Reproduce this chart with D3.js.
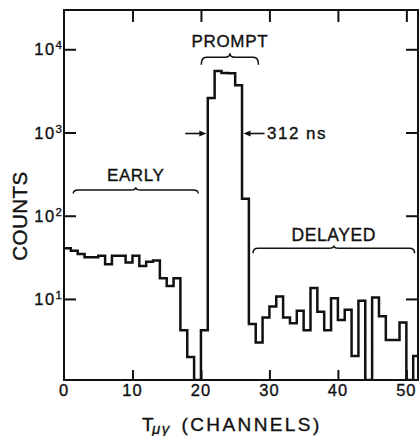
<!DOCTYPE html>
<html><head><meta charset="utf-8">
<script src="https://cdn.jsdelivr.net/npm/d3@7"></script>
<style>body{margin:0;background:#fff}svg{display:block}text{font-family:"Liberation Sans",Arial,sans-serif;fill:#111;stroke:#111;stroke-width:0.35}</style>
</head><body><svg id="c" width="420" height="436"></svg>
<script>
// ---- data ----
const channels = d3.range(0, 52);
const counts = [40.7,38,34.7,31.7,31.7,33,26.2,33,33,27.4,33,24.9,28,28.9,17.7,14.3,17.7,4.2,2.0,0,
  4.2,2600,5500,5200,5150,3700,160,5.0,3.0,6.0,8.1,10.7,6.0,5.1,7.2,4.2,13.5,7.0,4.2,10.2,
  5.6,7.4,2.06,9.5,0,10.4,6.2,3.2,3.2,5.2,0,2.06];
const xTickValues = [0,10,20,30,40,50];
const yTickValues = [10,100,1000,10000];
const yTickExponents = ["1","2","3","4"];
const regionNames = ["EARLY","PROMPT","DELAYED"];
const regionStart = [1.35, 20.05, 27.6];
const regionEnd = [19.6, 28.4, 51.2];
const widthStart = 21, widthEnd = 26;   // prompt FWHM channels
const widthLabel = "312 ns";

// ---- layout ----
const L = 64, R = 418, T = 10, B = 380;
const svg = d3.select("#c");
const x = d3.scaleLinear().domain([0, 51.7]).range([L, R]);
const yMin = Math.pow(10, 0.026), yMax = Math.pow(10, 4.472);
const y = d3.scaleLog().domain([yMin, yMax]).range([B, T]).clamp(true);
const ink = "#111";

svg.append("defs").append("clipPath").attr("id","clip")
  .append("rect").attr("x",L).attr("y",T).attr("width",R-L).attr("height",B-T);

// histogram
const yv = v => y(v > 0 ? v : yMin);
let d = `M${x(0)},${yv(counts[0])}`;
channels.forEach((c,i) => {
  if (i > 0) d += `V${yv(counts[i])}`;
  d += `H${x(c+1)}`;
});
svg.append("path").attr("d", d).attr("clip-path","url(#clip)")
  .attr("fill","none").attr("stroke",ink).attr("stroke-width",2.5);

// axes (ticks inside)
function styleAxis(g){ g.select(".domain").remove(); g.selectAll("line").attr("stroke",ink).attr("stroke-width",2); }
svg.append("g").attr("transform",`translate(0,${B})`)
  .call(d3.axisBottom(x).tickValues(xTickValues.slice(1)).tickSize(-10).tickFormat("")).call(styleAxis);
svg.append("g").attr("transform",`translate(0,${T})`)
  .call(d3.axisTop(x).tickValues(xTickValues.slice(1)).tickSize(-12).tickFormat("")).call(styleAxis);
svg.append("g").attr("transform",`translate(${L},0)`)
  .call(d3.axisLeft(y).tickValues(yTickValues).tickSize(-12).tickFormat("")).call(styleAxis);
svg.append("g").attr("transform",`translate(${R},0)`)
  .call(d3.axisRight(y).tickValues(yTickValues).tickSize(-12).tickFormat("")).call(styleAxis);

// frame
svg.append("rect").attr("x",L).attr("y",T).attr("width",R-L).attr("height",B-T)
  .attr("fill","none").attr("stroke",ink).attr("stroke-width",2);

// x tick labels
svg.append("g").selectAll("text").data(xTickValues).join("text")
  .attr("x", v => x(v)).attr("y", B+16).attr("text-anchor","middle")
  .attr("font-size",16.5).attr("letter-spacing",1).text(v => v);

// y tick labels
yTickValues.forEach((v,i) => {
  const t = svg.append("text").attr("x", 62).attr("y", y(v)+6).attr("text-anchor","end").attr("font-size",16.5);
  t.append("tspan").attr("letter-spacing",1.5).text("10");
  t.append("tspan").attr("font-size",11.5).attr("dy",-6).text(yTickExponents[i]);
});

// axis titles
svg.append("text").attr("transform",`translate(27,216) rotate(-90)`).attr("text-anchor","middle")
  .attr("font-size",20.5).attr("letter-spacing",0.5).text("COUNTS");
svg.append("text").attr("x",142).attr("y",431).attr("font-size",19).text("T");
svg.append("text").attr("x",152).attr("y",434).attr("font-size",15).attr("font-style","italic").attr("letter-spacing",1.5).text("μγ");
svg.append("text").attr("x",181.5).attr("y",431).attr("font-size",19).attr("letter-spacing",2.4).text("(CHANNELS)");

// braces + region labels
const braceLine = [190, 57.3, 248.3], braceEnd = [3.5, 7.5, 5], bracePeak = [2.8, 4, 2.8], labelY = [180.7, 46.7, 241];
const labelSize = [17, 17, 17.5], labelSpacing = [0.6, 0.7, 0.6];
regionNames.forEach((name,i) => {
  const x1 = x(regionStart[i]), x2 = x(regionEnd[i]), xc = (x1+x2)/2, yl = braceLine[i], h = braceEnd[i], p = bracePeak[i], r = 5;
  const bd = `M${x1},${yl+h} Q${x1},${yl} ${x1+r},${yl} H${xc-r} Q${xc},${yl} ${xc},${yl-p} Q${xc},${yl} ${xc+r},${yl} H${x2-r} Q${x2},${yl} ${x2},${yl+h}`;
  svg.append("path").attr("d",bd).attr("fill","none").attr("stroke",ink).attr("stroke-width",1.5);
  svg.append("text").attr("x",xc).attr("y",labelY[i]).attr("text-anchor","middle")
    .attr("font-size",labelSize[i]).attr("letter-spacing",labelSpacing[i]).text(name);
});

// FWHM arrows
const ay = y(1000) + 1;
function arrow(tip, dir, len){
  svg.append("line").attr("x1",tip - dir*len).attr("x2",tip - dir*4).attr("y1",ay).attr("y2",ay)
    .attr("stroke",ink).attr("stroke-width",1.6);
  svg.append("path").attr("d",`M${tip},${ay} L${tip-dir*7},${ay-3} L${tip-dir*7},${ay+3} Z`).attr("fill",ink);
}
arrow(x(widthStart)-1.5, 1, 21);
arrow(x(widthEnd)+1.5, -1, 21);
svg.append("text").attr("x", x(widthEnd)+25).attr("y", ay+5.5).attr("font-size",17).attr("letter-spacing",1.5).text(widthLabel);
</script></body></html>
